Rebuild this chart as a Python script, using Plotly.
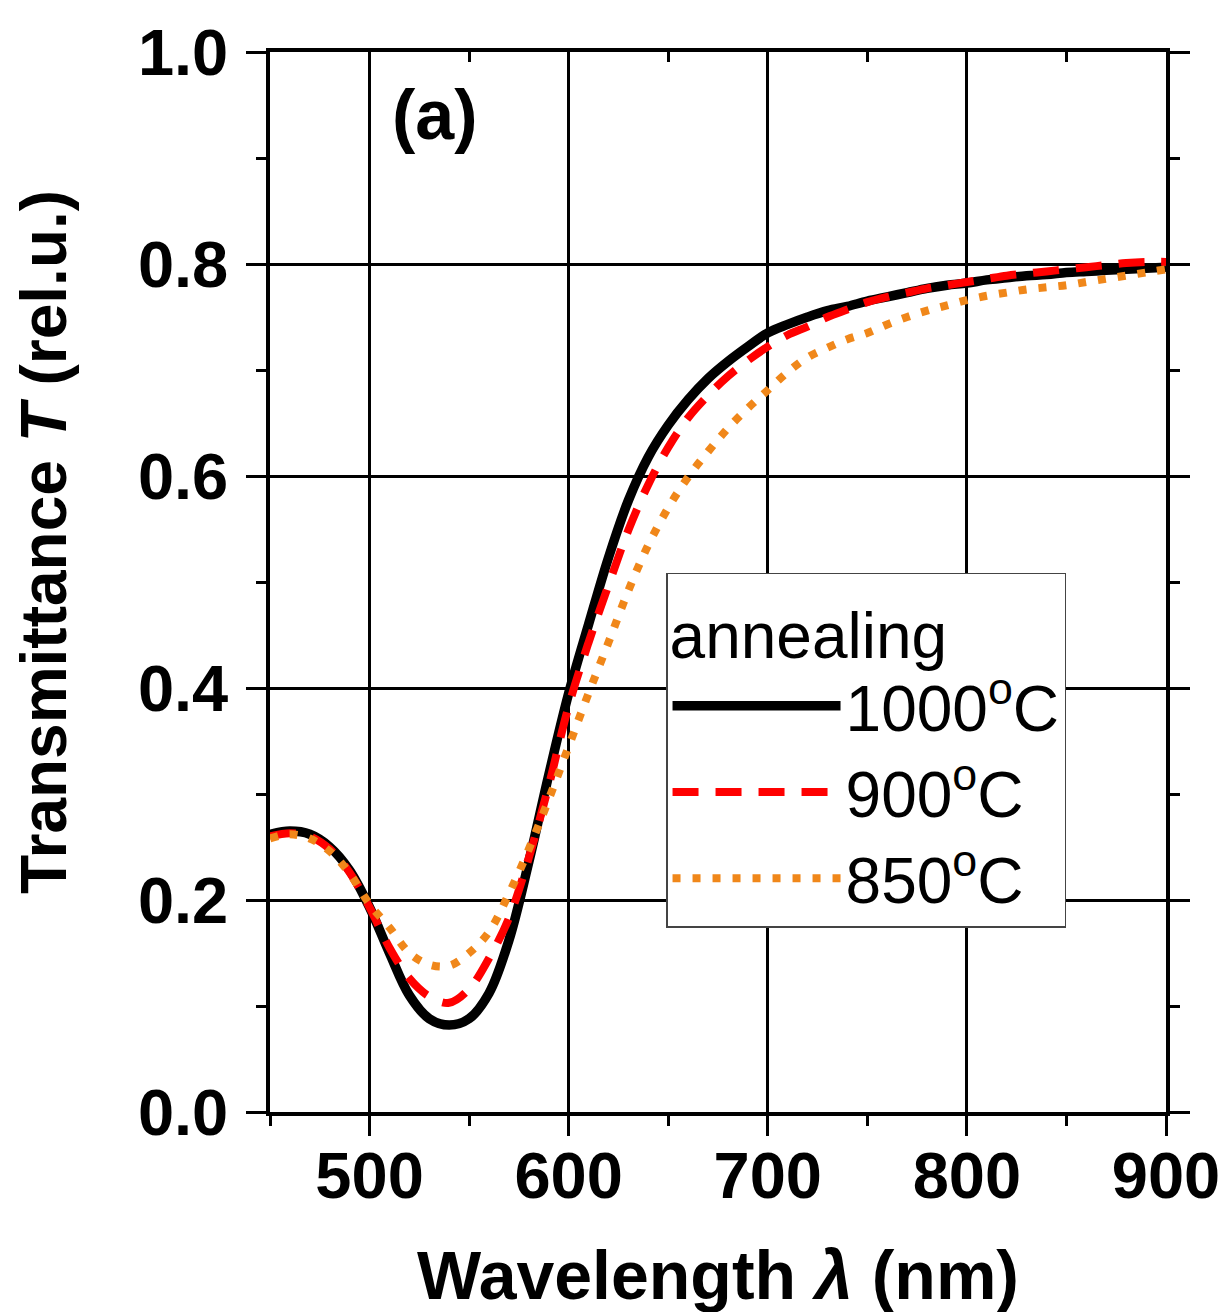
import plotly.graph_objects as go

wavelength = [450, 460, 470, 480, 490, 500, 510, 520, 530, 540, 550, 560, 570, 580, 590,
              600, 610, 620, 630, 640, 650, 660, 670, 680, 690, 700, 710, 720, 730, 740,
              750, 760, 770, 780, 790, 800, 810, 820, 830, 840, 850, 860, 870, 880, 890, 900]

t_1000 = [0.262, 0.265, 0.262, 0.250, 0.228, 0.193, 0.150, 0.110, 0.088, 0.082, 0.088, 0.112,
          0.162, 0.236, 0.318, 0.395, 0.460, 0.523, 0.577, 0.618, 0.648, 0.672, 0.692, 0.708,
          0.722, 0.735, 0.743, 0.750, 0.756, 0.760, 0.765, 0.769, 0.773, 0.777, 0.780, 0.782,
          0.785, 0.787, 0.789, 0.790, 0.792, 0.793, 0.794, 0.795, 0.796, 0.797]

t_900 = [0.260, 0.263, 0.260, 0.248, 0.226, 0.193, 0.155, 0.126, 0.109, 0.103, 0.116, 0.145,
         0.183, 0.240, 0.308, 0.383, 0.443, 0.497, 0.549, 0.592, 0.627, 0.655, 0.676, 0.694,
         0.709, 0.722, 0.733, 0.741, 0.750, 0.757, 0.764, 0.769, 0.773, 0.777, 0.780, 0.783,
         0.786, 0.789, 0.791, 0.793, 0.795, 0.797, 0.799, 0.801, 0.802, 0.802]

t_850 = [0.258, 0.262, 0.258, 0.246, 0.225, 0.196, 0.174, 0.150, 0.139, 0.138, 0.150, 0.170,
         0.206, 0.248, 0.295, 0.345, 0.395, 0.443, 0.492, 0.535, 0.570, 0.599, 0.623, 0.645,
         0.664, 0.681, 0.698, 0.712, 0.721, 0.729, 0.735, 0.743, 0.750, 0.756, 0.761, 0.766,
         0.770, 0.773, 0.776, 0.778, 0.780, 0.783, 0.786, 0.789, 0.792, 0.795]

series_names = ["1000<sup>o</sup>C", "900<sup>o</sup>C", "850<sup>o</sup>C"]
x_ticks = [500, 600, 700, 800, 900]
y_ticks = [0.0, 0.2, 0.4, 0.6, 0.8, 1.0]
y_ticklabels = ["0.0", "0.2", "0.4", "0.6", "0.8", "1.0"]

FONT = "Liberation Sans, Arial, sans-serif"

fig = go.Figure()
fig.add_trace(go.Scatter(x=wavelength, y=t_1000, name=series_names[0], mode="lines",
                         line=dict(color="black", width=9.5, shape="spline")))
fig.add_trace(go.Scatter(x=wavelength, y=t_900, name=series_names[1], mode="lines",
                         line=dict(color="#FF0000", width=8, dash="26px,17px", shape="spline")))
fig.add_trace(go.Scatter(x=wavelength, y=t_850, name=series_names[2], mode="lines",
                         line=dict(color="#F0871A", width=8, dash="8px,12px", shape="spline")))
# invisible helper trace to carry the top axis (inside ticks)
fig.add_trace(go.Scatter(x=wavelength, y=t_1000, xaxis="x2", mode="lines",
                         line=dict(width=0), opacity=0, showlegend=False, hoverinfo="skip"))

fig.update_layout(
    width=1219, height=1304,
    margin=dict(l=262, r=61, t=44, b=200, autoexpand=False),
    paper_bgcolor="white", plot_bgcolor="white",
    font=dict(family=FONT, color="black"),
    xaxis=dict(
        range=[450, 900], tickvals=x_ticks, ticktext=[str(v) for v in x_ticks],
        showgrid=True, gridcolor="black", gridwidth=3, zeroline=False,
        showline=True, linecolor="black", linewidth=3.5, mirror=True,
        ticks="outside", ticklen=20, tickwidth=3, tickcolor="black",
        ticklabelstandoff=-16,
        tickfont=dict(family=FONT, size=65, weight="bold", color="black"),
        minor=dict(dtick=50, tick0=0, ticks="outside", ticklen=10, tickwidth=3,
                   tickcolor="black", showgrid=False),
    ),
    xaxis2=dict(
        range=[450, 900], overlaying="x", side="top", anchor="y",
        tickvals=x_ticks, showticklabels=False, showgrid=False, zeroline=False,
        showline=False, ticks="inside", ticklen=20, tickwidth=3, tickcolor="black",
        minor=dict(dtick=50, tick0=0, ticks="inside", ticklen=10, tickwidth=3,
                   tickcolor="black", showgrid=False),
    ),
    yaxis=dict(
        range=[0, 1.0], tickvals=y_ticks, ticktext=y_ticklabels,
        showgrid=True, gridcolor="black", gridwidth=3, zeroline=False,
        showline=True, linecolor="black", linewidth=3.5, mirror="ticks",
        ticks="outside", ticklen=20, tickwidth=3, tickcolor="black",
        ticklabelstandoff=5,
        tickfont=dict(family=FONT, size=65, weight="bold", color="black"),
        minor=dict(dtick=0.1, tick0=0, ticks="outside", ticklen=10, tickwidth=3,
                   tickcolor="black", showgrid=False),
    ),
    legend=dict(
        x=0.442, y=0.5085, xanchor="left", yanchor="top",
        bgcolor="white", bordercolor="#444444", borderwidth=1.5,
        font=dict(family=FONT, size=64, color="black"),
        title=dict(text="annealing", font=dict(family=FONT, size=64, color="black")),
        itemwidth=168, tracegroupgap=0,
    ),
    showlegend=True,
)

fig.add_annotation(
    text="<b>(a)</b>", xref="paper", yref="paper", x=0.184, y=0.9406,
    xanchor="center", yanchor="middle", showarrow=False,
    font=dict(family=FONT, size=70, color="black"),
)
fig.add_annotation(
    text="<b>Wavelength <i>λ</i> (nm)</b>", xref="paper", yref="paper",
    x=0.5, y=-0.1535, xanchor="center", yanchor="middle", showarrow=False,
    font=dict(family=FONT, size=68, color="black"),
)
fig.add_annotation(
    text="<b>Transmittance <i>T</i> (rel.u.)</b>", xref="paper", yref="paper",
    x=-0.2522, y=0.5377, xanchor="center", yanchor="middle", showarrow=False,
    textangle=-90, font=dict(family=FONT, size=64, color="black"),
)

fig.write_html("out.html")
